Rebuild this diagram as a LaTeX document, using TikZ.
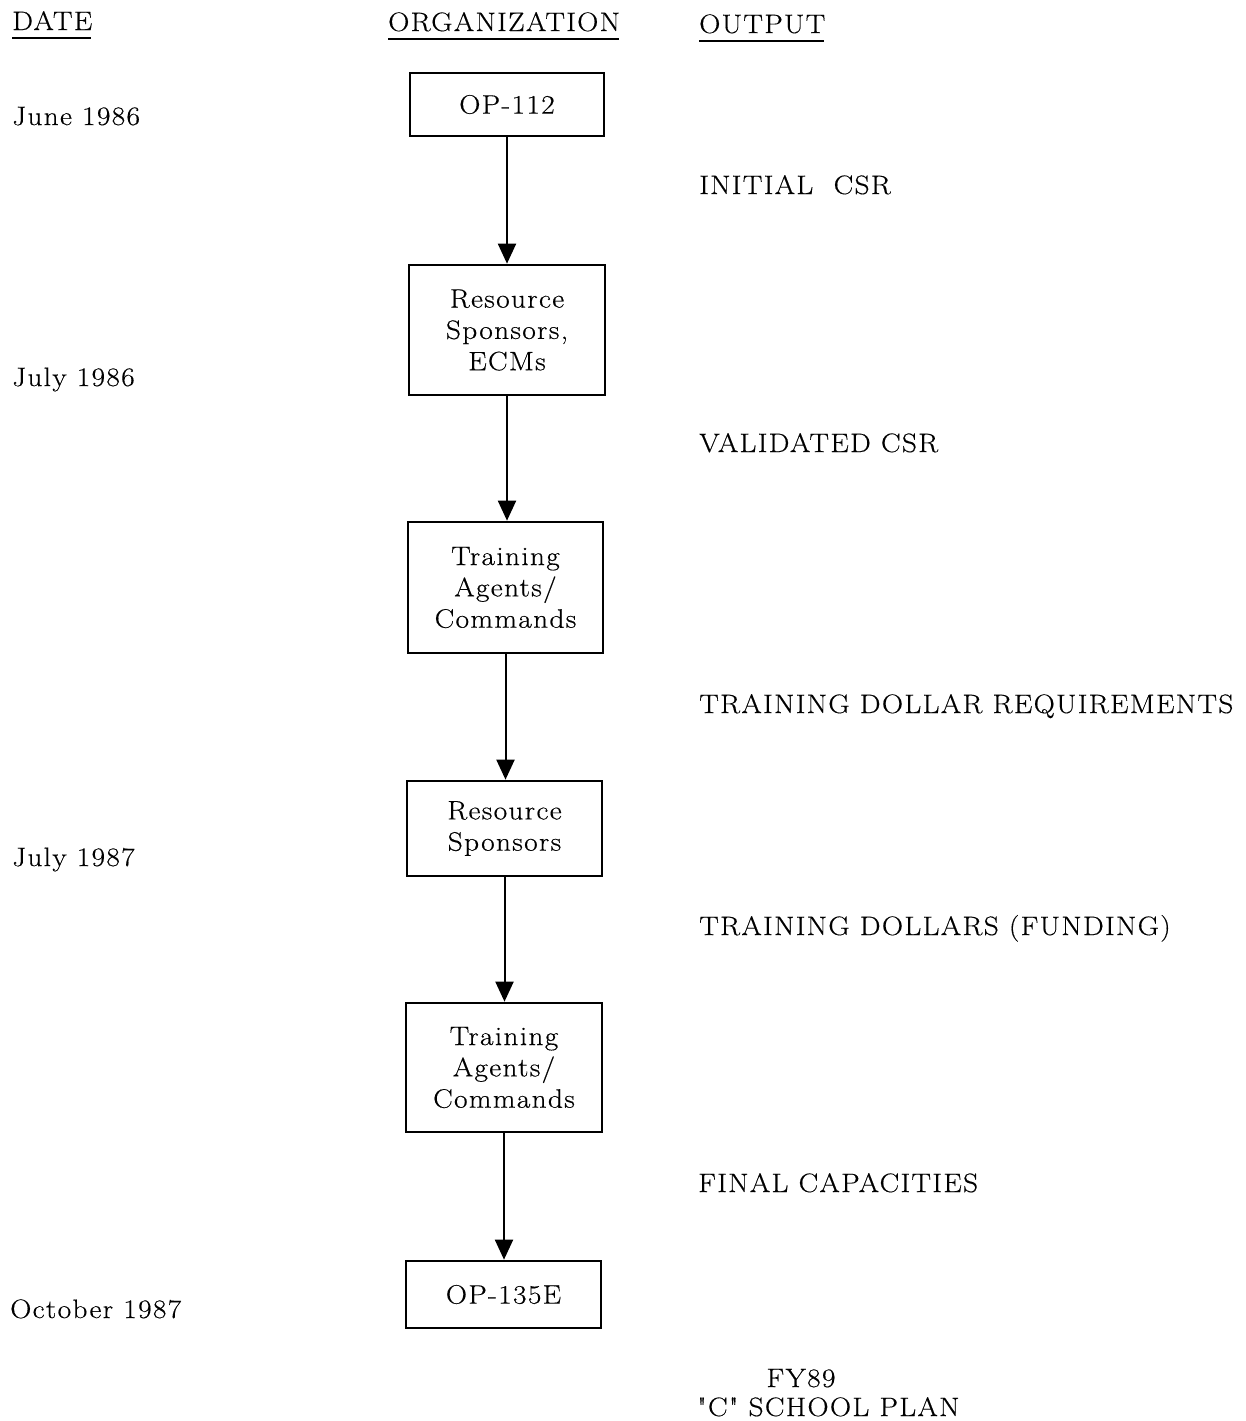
\documentclass[tikz,border=0pt]{standalone}
\usepackage{fontspec}
\newfontfamily\reffont{Latin Modern Roman}[FakeStretch=1.1,LetterSpace=5,FakeBold=0.4]
\usetikzlibrary{arrows.meta}
\begin{document}
\begin{tikzpicture}[x=0.75pt,y=-0.75pt,
  every node/.style={font=\reffont\fontsize{20}{23.5}\selectfont, inner sep=0pt},
  box/.style={draw, line width=2pt, align=center},
  lbl/.style={anchor=base west},
  flow/.style={line width=1.5pt, -{Triangle[length=15pt,width=13.5pt]}},
  uline/.style={line width=2pt}]
\useasboundingbox[fill=white] (0,0) rectangle (1246,1421);
% headers
\node[lbl] (hdate) at (12,30) {DATE};
\node[lbl] (horg) at (388,31) {ORGANIZATION};
\node[lbl] (hout) at (699,33) {OUTPUT};
\draw[uline] ([yshift=-6pt]hdate.base west) -- ([yshift=-6pt,xshift=-1pt]hdate.base east);
\draw[uline] ([yshift=-6pt]horg.base west) -- ([yshift=-6pt,xshift=-1pt]horg.base east);
\draw[uline] ([yshift=-6pt]hout.base west) -- ([yshift=-6pt,xshift=-1pt]hout.base east);
% dates
\node[lbl] (d1) at (12,125) {June 1986};
\node[lbl] (d2) at (12,386) {July 1986};
\node[lbl] (d3) at (12,866) {July 1987};
\node[lbl] (d4) at (10,1318) {October 1987};
% boxes
\node[box, minimum width=145.5pt, minimum height=47.25pt] (b1) at (507,104.5) {OP-112};
\node[box, minimum width=147pt, minimum height=97.5pt] (b2) at (507,330) {Resource\\Sponsors,\\ECMs};
\node[box, minimum width=146.25pt, minimum height=98.25pt] (b3) at (505.5,587.5) {Training\\Agents/\\Commands};
\node[box, minimum width=146.25pt, minimum height=71.25pt] (b4) at (504.5,828.5) {Resource\\Sponsors};
\node[box, minimum width=147pt, minimum height=96.75pt] (b5) at (504,1067.5) {Training\\Agents/\\Commands};
\node[box, minimum width=146.25pt, minimum height=50.25pt] (b6) at (503.5,1294.5) {OP-135E};
% arrows
\draw[flow] (b1.south) -- (b1.south |- b2.north);
\draw[flow] (b2.south) -- (b2.south |- b3.north);
\draw[flow] (b3.south) -- (b3.south |- b4.north);
\draw[flow] (b4.south) -- (b4.south |- b5.north);
\draw[flow] (b5.south) -- (b5.south |- b6.north);
% outputs
\node[lbl] (o1) at (699,194) {INITIAL\ \ CSR};
\node[lbl] (o2) at (699,452) {VALIDATED CSR};
\node[lbl] (o3) at (699,713) {TRAINING DOLLAR REQUIREMENTS};
\node[lbl] (o4) at (699,935) {TRAINING DOLLARS (FUNDING)};
\node[lbl] (o5) at (698,1192) {FINAL CAPACITIES};
\node[anchor=base] (o6a) at (801,1387) {FY89};
\node[lbl] (o6b) at (697,1416) {"C" SCHOOL PLAN};
\end{tikzpicture}
\end{document}
